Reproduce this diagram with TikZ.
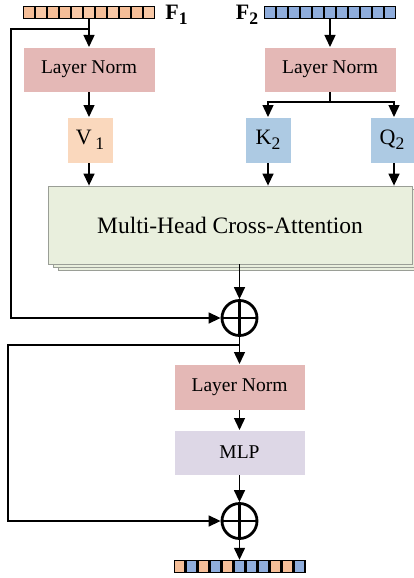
\documentclass[tikz,border=0pt]{standalone}
\usepackage{fontspec}
\setmainfont{Liberation Serif}
\usetikzlibrary{arrows.meta,calc}
\definecolor{lnc}{HTML}{E4B8B6}
\definecolor{vc}{HTML}{FAD8BD}
\definecolor{kc}{HTML}{ADCAE3}
\definecolor{mhc}{HTML}{E9EFDD}
\definecolor{mhd}{HTML}{9A9E96}
\definecolor{mlpc}{HTML}{DDD7E6}
\definecolor{oc}{HTML}{F5BE98}
\definecolor{ocl}{HTML}{F8C8A6}
\definecolor{bc}{HTML}{8FADDC}
\newcommand{\lsub}[1]{\raisebox{-0.22em}{\scalebox{0.8}{#1}}}
\begin{document}
\begin{tikzpicture}[x=1pt,y=-1pt,
  box/.style={rectangle, inner sep=0pt, outer sep=0pt, draw=white, line width=0.5pt,
    font=\fontsize{19.5}{22}\selectfont},
  lnbox/.style={box, fill=lnc, minimum width=132pt, minimum height=45pt},
  small/.style={box, minimum width=46pt, minimum height=46pt, font=\fontsize{22}{24}\selectfont},
  mh/.style={rectangle, inner sep=0pt, fill=mhc, draw=mhd, line width=0.8pt, minimum width=364pt, minimum height=78pt},
  bar/.style={rectangle, inner sep=0pt, fill=black, minimum width=132pt, minimum height=13pt},
  pl/.style={circle, draw, line width=2.8pt, minimum size=35pt, inner sep=0pt},
  arr/.style={line width=1.4pt, -{Triangle[length=12pt,width=11pt]}},
  cn/.style={line width=1.4pt},
  lab/.style={inner sep=0pt, font=\fontsize{22}{24}\selectfont\bfseries}]
\useasboundingbox (0,0) rectangle (414,578);

% token bars
\node[bar] (f1bar) at (89,12.5) {};
\foreach \c [count=\i from 0] in {oc,ocl,oc,oc,ocl,ocl,oc,ocl,oc,oc,ocl}
  \fill[\c] ($(f1bar.west)+(\i*12+1.2,-5.1)$) rectangle ++(9.6,10.2);
\node[bar] (f2bar) at (330,12.5) {};
\foreach \i in {0,...,10}
  \fill[bc] ($(f2bar.west)+(\i*12+1.2,-5.1)$) rectangle ++(9.6,10.2);
\node[bar] (obar) at (239.5,566.5) {};
\foreach \c [count=\i from 0] in {oc,bc,oc,bc,oc,bc,bc,bc,oc,oc,bc}
  \fill[\c] ($(obar.west)+(\i*12+1.2,-5.1)$) rectangle ++(9.6,10.2);

\node[lab] (f1lab) at (176.5,15) {F\lsub{1}};
\node[lab] (f2lab) at (247,15) {F\lsub{2}};

% boxes
\node[lnbox] (ln1) at (89,69.5) {Layer Norm};
\node[lnbox] (ln2) at (330,69.5) {Layer Norm};
\node[small, fill=vc] (v1) at (90,140) {V\,\lsub{1}};
\node[small, fill=kc] (k2) at (268,140) {K\lsub{2}};
\node[small, fill=kc, minimum width=44pt] (q2) at (392,140) {Q\lsub{2}};

\node[mh] (mhs2) at (240,231) {};
\node[mh] (mhs1) at (235,228) {};
\node[mh, font=\fontsize{23.5}{26}\selectfont] (mhca) at (230,225) {Multi-Head Cross-Attention};

\node[pl] (p1) at (239.5,318) {};
\draw[line width=2.5pt] (p1.north) -- (p1.south) (p1.west) -- (p1.east);
\node[lnbox, minimum width=131pt, minimum height=46pt] (ln3) at (239.5,387) {Layer Norm};
\node[box, fill=mlpc, minimum width=131pt, minimum height=45pt] (mlp) at (239.5,452.5) {MLP};
\node[pl] (p2) at (239.5,521) {};
\draw[line width=2.5pt] (p2.north) -- (p2.south) (p2.west) -- (p2.east);

% connectors
\coordinate (s1) at (89,29);
\coordinate (s1l) at (11,29);
\draw[arr] (f1bar.south) -- (ln1.north);
\draw[arr] (s1) -- (s1l) |- (p1.west);
\draw[arr] (f2bar.south) -- (ln2.north);
\coordinate (br) at (330,102);
\draw[cn] (ln2.south) -- (br);
\draw[arr] (br) -| (k2.north);
\draw[arr] (br) -| ($(q2.north)+(2,0)$);
\draw[arr] (ln1.south) -- (v1.north -| ln1.south);
\draw[arr] (v1.south -| ln1.south) -- (mhca.north -| ln1.south);
\draw[arr] (k2.south) -- (mhca.north -| k2.south);
\draw[arr] ($(q2.south)+(2,0)$) -- ($(mhca.north -| q2.south)+(2,0)$);
\draw[arr] (mhca.south -| p1.north) -- (p1.north);
\draw[arr] (p1.south) -- (ln3.north);
\coordinate (s2) at (239.5,345);
\coordinate (s2l) at (8,345);
\draw[arr] (s2) -- (s2l) |- (p2.west);
\draw[arr] (ln3.south) -- (mlp.north);
\draw[arr] (mlp.south) -- (p2.north);
\draw[arr] (p2.south) -- (obar.north);
\end{tikzpicture}
\end{document}
